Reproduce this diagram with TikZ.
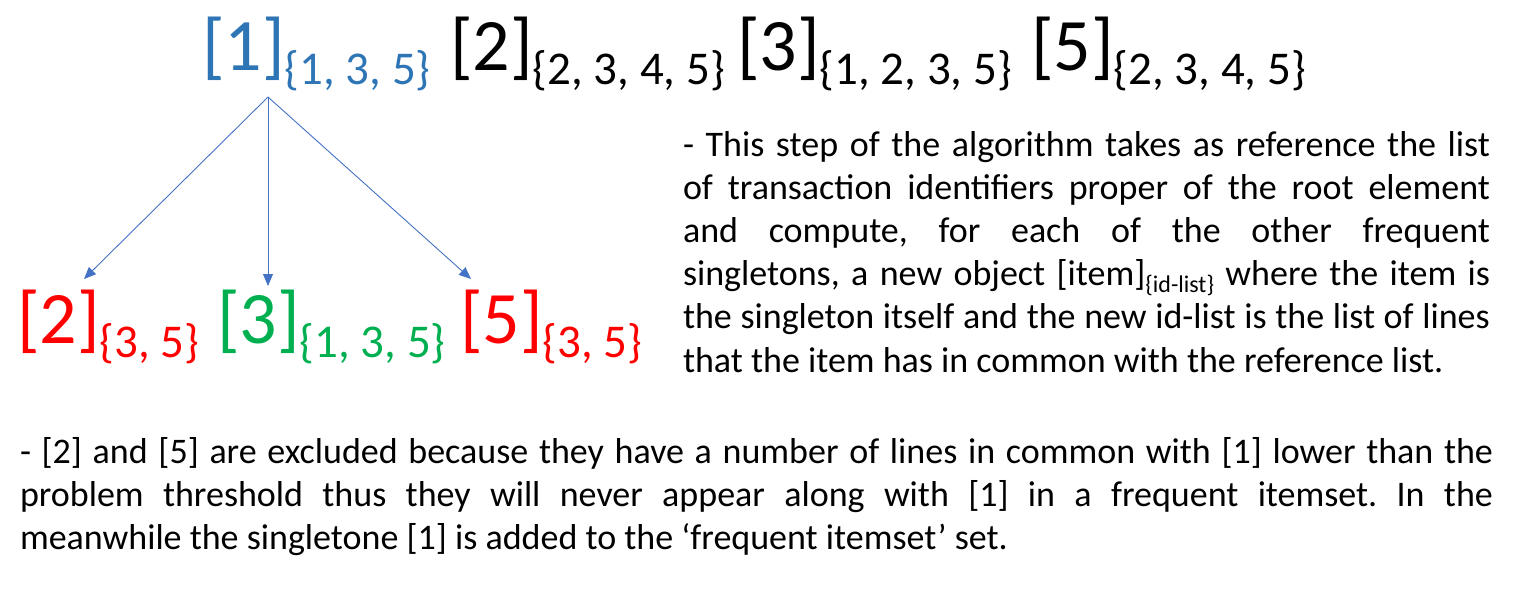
\documentclass[tikz,border=0pt]{standalone}
\usepackage{fontspec}
\setmainfont{Carlito}
\usetikzlibrary{arrows.meta}
\frenchspacing
\definecolor{rootblue}{HTML}{2E75B6}
\definecolor{arrowblue}{HTML}{4472C4}
\definecolor{exred}{HTML}{FF0000}
\definecolor{okgreen}{HTML}{00B050}
\newcommand{\bigitem}[2]{{\fontsize{74}{74}\selectfont[#1]}\raisebox{-14pt}{\fontsize{47}{47}\selectfont\{#2\}}}
\tikzset{
  itemlbl/.style={anchor=base west, inner sep=0pt, outer sep=0pt},
  para/.style={anchor=base west, inner sep=0pt, outer sep=0pt, align=justify, font=\fontsize{36}{43.2}\selectfont},
  link/.style={draw=arrowblue, line width=0.9pt, -{Triangle[length=12pt,width=10pt]}}
}
\begin{document}
\begin{tikzpicture}[x=1pt,y=-1pt]
\useasboundingbox[fill=white] (0,0) rectangle (1520,590);
% top row
\node[itemlbl, text=rootblue] (i1) at (202,70) {\bigitem{1}{1, 3, 5}};
\node[itemlbl] (i2) at (450,70) {\bigitem{2}{2, 3, 4, 5}};
\node[itemlbl] (i3) at (737,70) {\bigitem{3}{1, 2, 3, 5}};
\node[itemlbl] (i5) at (1031,70) {\bigitem{5}{2, 3, 4, 5}};
% bottom row
\node[itemlbl, text=exred] (c2) at (17,343) {\bigitem{2}{3, 5}};
\node[itemlbl, text=okgreen] (c3) at (217,343) {\bigitem{3}{1, 3, 5}};
\node[itemlbl, text=exred] (c5) at (460,343) {\bigitem{5}{3, 5}};
% connectors
\coordinate (root) at (268,97);
\coordinate (t2) at (84,279);
\coordinate (t3) at (268,286);
\coordinate (t5) at (471,279);
\draw[link] (root) -- (t2);
\draw[link] (root) -- (t3);
\draw[link] (root) -- (t5);
% text
\node[para, text width=807pt] (p1) at (683,156) {- This step of the algorithm takes as reference the list\linebreak
of transaction identifiers proper of the root element\linebreak
and compute, for each of the other frequent\linebreak
singletons, a new object [item]\raisebox{-7pt}{\fontsize{24}{24}\selectfont\{id-list\}} where the item is\linebreak
the singleton itself and the new id-list is the list of lines\linebreak
that the item has in common with the reference list.};
\node[para, text width=1473pt] (p2) at (20,463) {- [2] and [5] are excluded because they have a number of lines in common with [1] lower than the\linebreak
problem threshold thus they will never appear along with [1] in a frequent itemset. In the\linebreak
meanwhile the singletone [1] is added to the ‘frequent itemset’ set.};
\end{tikzpicture}
\end{document}
